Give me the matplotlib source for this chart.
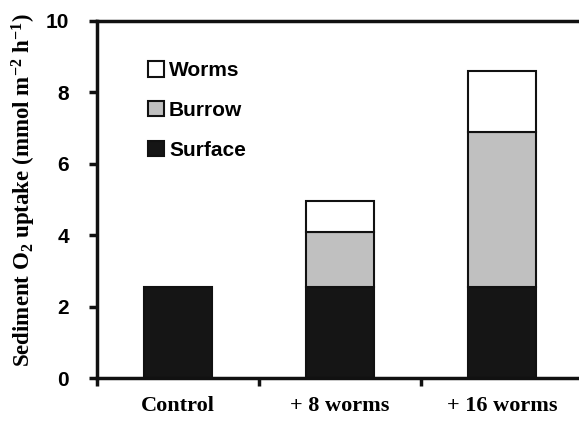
import matplotlib
matplotlib.use("Agg")
import matplotlib.pyplot as plt
import numpy as np

plt.rcParams["mathtext.fontset"] = "custom"
plt.rcParams["mathtext.rm"] = "Liberation Serif:bold"
plt.rcParams["mathtext.it"] = "Liberation Serif:bold"
plt.rcParams["mathtext.bf"] = "Liberation Serif:bold"
plt.rcParams["mathtext.default"] = "rm"

categories = ["Control", "+ 8 worms", "+ 16 worms"]
surface = [2.55, 2.55, 2.55]
burrow = [0.0, 1.55, 4.35]
worms = [0.0, 0.85, 1.7]
yticks = [0, 2, 4, 6, 8, 10]

fig = plt.figure(figsize=(5.79, 4.21), dpi=100)
ax = fig.add_axes([97/579, 1-378/421, 486/579, 357/421])

x = np.arange(len(categories))
w = 0.42
ec = "#111111"
b1 = ax.bar(x, surface, w, color="#151515", edgecolor=ec, linewidth=1.5, label="Surface")
bur_h = [b if b > 0 else np.nan for b in burrow]
wor_h = [v if v > 0 else np.nan for v in worms]
b2 = ax.bar(x, bur_h, w, bottom=surface, color="#c0c0c0", edgecolor=ec, linewidth=1.5, label="Burrow")
bot3 = [s + b for s, b in zip(surface, burrow)]
b3 = ax.bar(x, wor_h, w, bottom=bot3, color="white", edgecolor=ec, linewidth=1.5, label="Worms")

ax.set_xlim(-0.5, 2.5)
ax.set_ylim(0, 10)
ax.set_yticks(yticks)
ax.set_yticklabels([str(t) for t in yticks], fontfamily="Liberation Sans", fontweight="bold", fontsize=15)
ax.set_xticks(x)
ax.set_xticklabels(categories, fontfamily="Liberation Serif", fontweight="bold", fontsize=16)
ax.set_xticks([-0.5, 0.5, 1.5, 2.5], minor=True)
ax.tick_params(axis="x", which="major", length=0, pad=13)
ax.tick_params(axis="x", which="minor", length=6, width=2.5, direction="out", color="#111111")
ax.tick_params(axis="y", length=6, width=2.5, direction="out", color="#111111", pad=14)

for s in ["left", "bottom", "top"]:
    ax.spines[s].set_linewidth(2.5)
    ax.spines[s].set_color("#111111")
ax.spines["right"].set_visible(False)

fig.text(24/579, 1-190/421, "Sediment O$_2$ uptake (mmol m$^{-2}$ h$^{-1}$)", rotation=90,
         ha="center", va="center", fontfamily="Liberation Serif", fontweight="bold", fontsize=16.5)

leg = ax.legend(handles=[b3, b2, b1], labels=["Worms", "Burrow", "Surface"],
                loc="upper left", bbox_to_anchor=(144/579, 1-57/421), bbox_transform=fig.transFigure,
                frameon=False, handlelength=0.75, handleheight=0.75, labelspacing=1.0, handletextpad=0.25,
                borderaxespad=0, borderpad=0.2,
                prop={"family": "Liberation Sans", "weight": "bold", "size": 15})

fig.savefig("out.png", dpi=100)
